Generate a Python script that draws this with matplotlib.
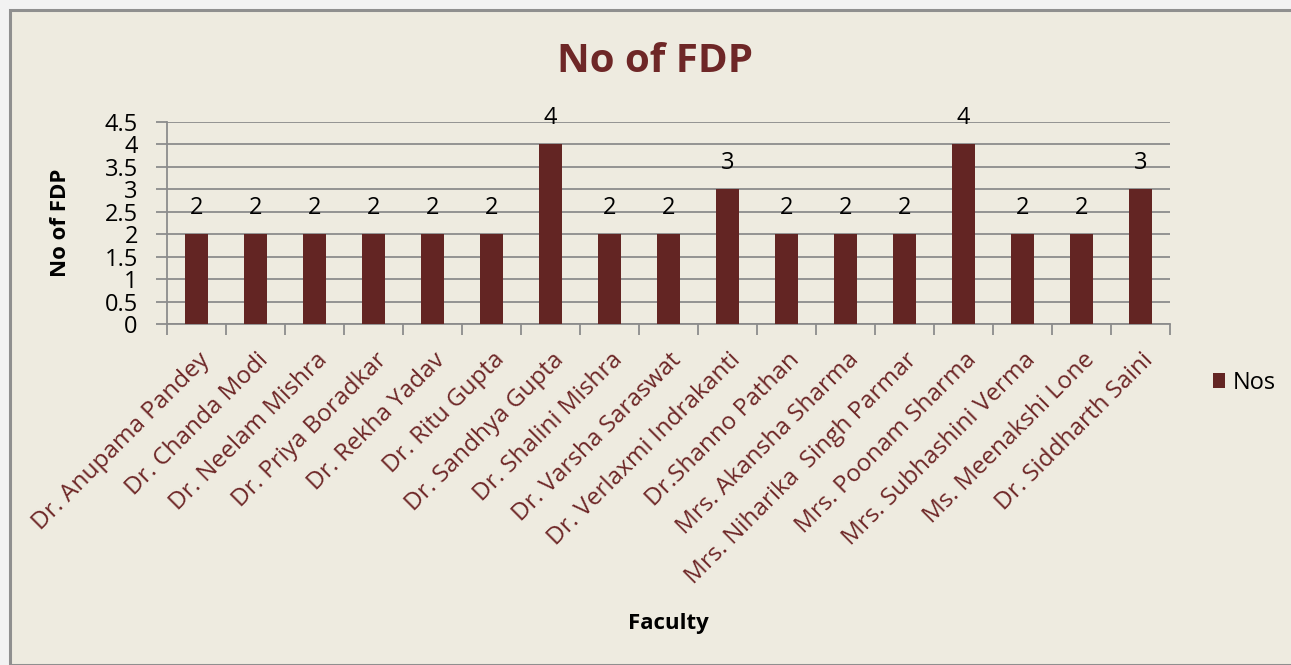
import matplotlib
matplotlib.use("Agg")
import matplotlib.pyplot as plt
from matplotlib.patches import Rectangle

faculty = ["Dr. Anupama Pandey", "Dr. Chanda Modi", "Dr. Neelam Mishra", "Dr. Priya Boradkar",
           "Dr. Rekha Yadav", "Dr. Ritu Gupta", "Dr. Sandhya Gupta", "Dr. Shalini Mishra",
           "Dr. Varsha Saraswat", "Dr. Verlaxmi Indrakanti", "Dr.Shanno Pathan",
           "Mrs. Akansha Sharma", "Mrs. Niharika  Singh Parmar", "Mrs. Poonam Sharma",
           "Mrs. Subhashini Verma", "Ms. Meenakshi Lone", "Dr. Siddharth Saini"]
nos = [2, 2, 2, 2, 2, 2, 4, 2, 2, 3, 2, 2, 2, 4, 2, 2, 3]
yticks = [0, 0.5, 1, 1.5, 2, 2.5, 3, 3.5, 4, 4.5]
ytick_labels = ["0", "0.5", "1", "1.5", "2", "2.5", "3", "3.5", "4", "4.5"]

W, H = 1291, 665
BG = "#eeebe0"
BAR = "#632523"
TXT_RED = "#6e2727"
GRID = "#8c8c8c"
FONT = "Open Sans"

fig = plt.figure(figsize=(W / 100, H / 100), dpi=100)
fig.patch.set_facecolor("#f2f2f2")
fig.patches.append(Rectangle((10 / W, 0), 1.2, (H - 10) / H, transform=fig.transFigure,
                             facecolor=BG, edgecolor="#8f8f8f", linewidth=2.2, zorder=-1))

x0, x1, ytop, ybot = 167, 1170, 122, 324
ax = fig.add_axes([x0 / W, (H - ybot) / H, (x1 - x0) / W, (ybot - ytop) / H])
ax.set_facecolor(BG)
ax.patch.set_alpha(0)

xs = list(range(len(faculty)))
bars = ax.bar(xs, nos, width=0.39, color=BAR, zorder=3, label="Nos")
ax.set_xlim(-0.5, len(faculty) - 0.5)
ax.set_ylim(0, 4.5)

ax.set_yticks(yticks)
ax.set_yticklabels(ytick_labels, fontsize=17, family=FONT, color="black")
ax.yaxis.grid(True, color=GRID, linewidth=1.3, zorder=0)
ax.tick_params(axis="y", length=8, width=1.3, color=GRID, pad=13)

ax.set_xticks([i - 0.5 for i in range(len(faculty) + 1)], minor=False)
ax.set_xticklabels([])
ax.tick_params(axis="x", length=8, width=1.3, color=GRID, direction="out")
for i, name in enumerate(faculty):
    ax.annotate(name, xy=(i, 0), xycoords=("data", "axes fraction"),
                xytext=(1, -24), textcoords="offset pixels",
                rotation=45, ha="right", va="top", rotation_mode="anchor",
                fontsize=17.5, family=FONT, color=TXT_RED)

for s in ["top", "right"]:
    ax.spines[s].set_visible(False)
for s in ["left", "bottom"]:
    ax.spines[s].set_color(GRID)
    ax.spines[s].set_linewidth(1.3)

for xi, v in zip(xs, nos):
    ax.annotate(str(v), xy=(xi, v), xytext=(0, 26), textcoords="offset pixels",
                ha="center", va="center", fontsize=17, family=FONT, color="black", zorder=4)

fig.text(655 / W, 1 - 62 / H, "No of FDP", ha="center", va="center",
         fontsize=29, fontweight="bold", family=FONT, color=TXT_RED)
fig.text(60 / W, 1 - 223 / H, "No of FDP", ha="center", va="center", rotation=90,
         fontsize=16, fontweight="bold", family=FONT, color="black")
fig.text(668 / W, 1 - 624 / H, "Faculty", ha="center", va="center",
         fontsize=16, fontweight="bold", family=FONT, color="black")

leg = fig.legend(handles=[bars], labels=["Nos"], loc="center left",
                 bbox_to_anchor=(1213 / W, 1 - 383 / H), frameon=False,
                 prop={"family": FONT, "size": 17}, handlelength=0.5, handleheight=0.6,
                 handletextpad=0.35, borderpad=0, borderaxespad=0)

fig.savefig("out.png", dpi=100, facecolor=fig.get_facecolor())
